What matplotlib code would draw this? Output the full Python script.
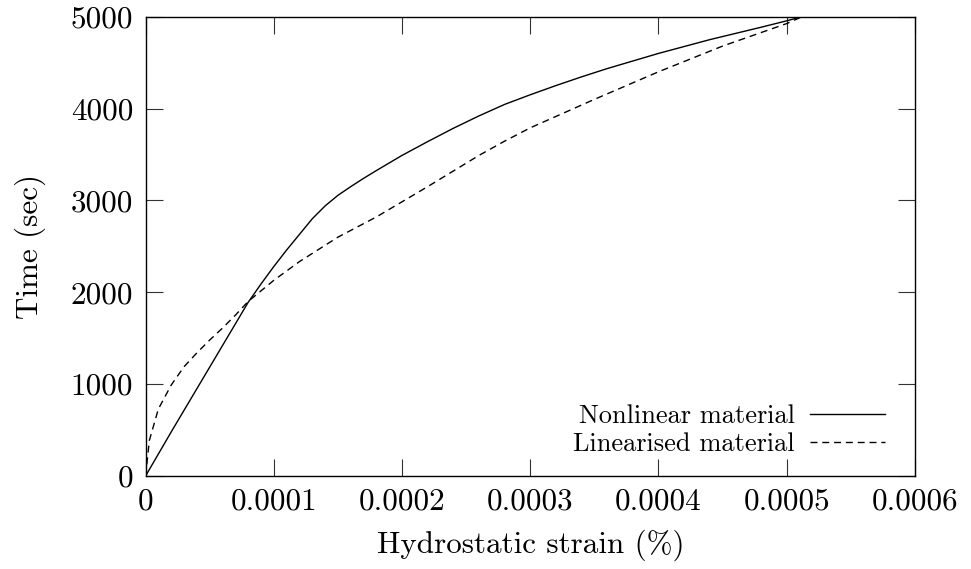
import numpy as np
import matplotlib
matplotlib.use('Agg')
import matplotlib.pyplot as plt
from matplotlib.ticker import FuncFormatter

plt.rcParams['font.family'] = 'cmr10'
plt.rcParams['axes.formatter.use_mathtext'] = True
plt.rcParams['mathtext.fontset'] = 'cm'

# nonlinear material
strain_nl = [0, 0.00002, 0.00004, 0.00006, 0.00008, 0.00009, 0.0001, 0.00011,
             0.00012, 0.00013, 0.00014, 0.00015, 0.00016, 0.00017, 0.00018,
             0.0002, 0.00022, 0.00024, 0.00026, 0.00028, 0.0003, 0.00032,
             0.00034, 0.00036, 0.0004, 0.00044, 0.00048, 0.0005, 0.000512]
time_nl = [0, 480, 950, 1420, 1890, 2090, 2280, 2460,
           2630, 2800, 2940, 3055, 3150, 3240, 3325,
           3490, 3640, 3785, 3920, 4045, 4150, 4250,
           4345, 4435, 4600, 4750, 4885, 4955, 5000]

# linearised material
strain_lin = [0, 0.000003, 0.00001, 0.00002, 0.00003, 0.00004, 0.00005, 0.00006,
              0.00007, 0.00008, 0.0001, 0.00012, 0.00015, 0.00018, 0.00022,
              0.00026, 0.00028, 0.0003, 0.00035, 0.0004, 0.00045, 0.0005, 0.000512]
time_lin = [0, 390, 730, 990, 1190, 1340, 1480, 1610,
            1750, 1900, 2130, 2334, 2600, 2820, 3150,
            3490, 3645, 3790, 4100, 4400, 4680, 4925, 5000]

xticks = [0, 0.0001, 0.0002, 0.0003, 0.0004, 0.0005, 0.0006]
yticks = [0, 1000, 2000, 3000, 4000, 5000]

fig = plt.figure(figsize=(9.71, 5.69), dpi=100)
ax = fig.add_axes([0.1499, 0.1634, 0.9423 - 0.1499, 0.9707 - 0.1634])

ax.plot(strain_nl, time_nl, color='black', linewidth=1.0, label='Nonlinear material')
ax.plot(strain_lin, time_lin, color='black', linewidth=1.0, linestyle=(0, (5, 3.5)),
        label='Linearised material')

ax.set_xlim(0, 0.0006)
ax.set_ylim(0, 5000)
ax.set_xticks(xticks)
ax.set_yticks(yticks)
ax.xaxis.set_major_formatter(FuncFormatter(lambda v, p: '%g' % v))
ax.yaxis.set_major_formatter(FuncFormatter(lambda v, p: '%d' % v))
ax.tick_params(direction='in', length=12, width=0.8, top=True, right=True,
               labelsize=22.4, color='#333333')
ax.tick_params(axis='x', pad=9)
ax.tick_params(axis='y', pad=9)
for s in ax.spines.values():
    s.set_linewidth(1.0)

ax.set_xlabel('Hydrostatic strain (%)', fontsize=22.4, labelpad=10)
ax.set_ylabel('Time (sec)', fontsize=22.4, labelpad=18)

ax.legend(loc='lower right', bbox_to_anchor=(0.961, 0.044), frameon=False,
          markerfirst=False, fontsize=19, handlelength=2.85, handletextpad=0.57,
          labelspacing=0.15, borderaxespad=0, borderpad=0)

fig.savefig('out.png', dpi=100)
